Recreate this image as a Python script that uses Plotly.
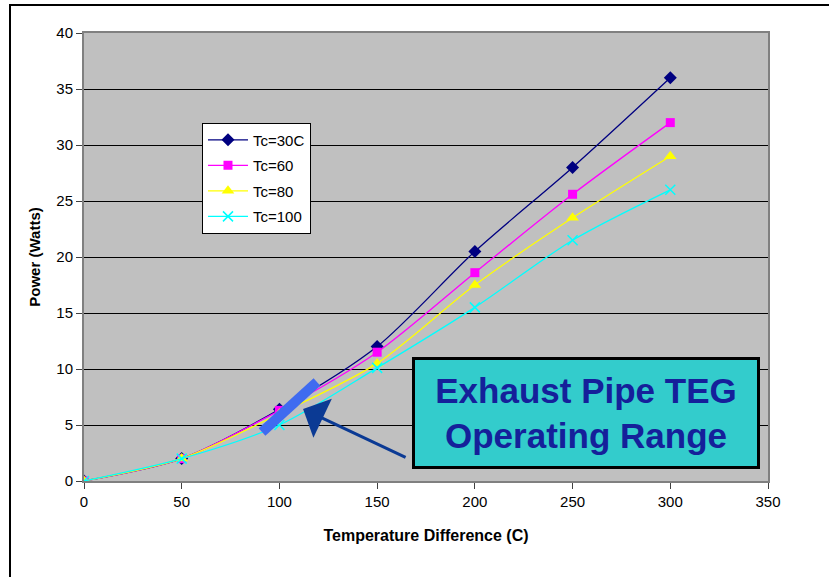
import plotly.graph_objects as go

temp_diff = [0, 50, 100, 150, 200, 250, 300]
tc30 = [0, 2.0, 6.4, 12.0, 20.5, 28.0, 36.0]
tc60 = [0, 2.0, 6.3, 11.5, 18.6, 25.6, 32.0]
tc80 = [0, 2.0, 6.0, 10.5, 17.5, 23.5, 29.0]
tc100 = [0, 2.0, 5.0, 10.1, 15.5, 21.5, 26.0]

series_names = ["Tc=30C", "Tc=60", "Tc=80", "Tc=100"]
series_values = [tc30, tc60, tc80, tc100]
series_colors = ["#000080", "#FF00FF", "#FFFF00", "#00FFFF"]
series_symbols = ["diamond", "square", "triangle-up", "x-thin-open"]
series_sizes = [10, 9, 11, 10]

x_ticks = [0, 50, 100, 150, 200, 250, 300, 350]
y_ticks = [0, 5, 10, 15, 20, 25, 30, 35, 40]

# operating range bar (data coords)
range_x = [91.1, 119.2]
range_y = [4.38, 8.84]

FONT = "Liberation Sans, Arial, sans-serif"

fig = go.Figure()
for name, vals, col, sym, sz in zip(series_names, series_values, series_colors, series_symbols, series_sizes):
    marker = dict(symbol=sym, size=sz, color=col)
    if sym.startswith("x-thin"):
        marker["line"] = dict(color=col, width=1.5)
    fig.add_trace(go.Scatter(
        x=temp_diff, y=vals, name=name, mode="lines+markers",
        line=dict(color=col, width=1.3, shape="spline", smoothing=0.8),
        marker=marker, legendgroup=name,
    ))

fig.update_layout(
    width=829, height=577,
    margin=dict(l=84, r=61, t=33, b=96),
    paper_bgcolor="white", plot_bgcolor="#C0C0C0",
    font=dict(family=FONT, color="black", size=15),
    showlegend=True,
    legend=dict(
        x=0.1725, y=0.80, xanchor="left", yanchor="top",
        bgcolor="white", bordercolor="black", borderwidth=1,
        font=dict(size=15, family=FONT), itemwidth=40,
        tracegroupgap=3, traceorder="grouped",
    ),
    xaxis=dict(
        range=[0, 350], tickvals=x_ticks, showgrid=False, zeroline=False,
        showline=True, linecolor="#808080", linewidth=2, mirror=True,
        ticks="outside", ticklen=6, tickcolor="#404040",
        tickfont=dict(size=15, family=FONT),
        title=dict(text="<b>Temperature Difference (C)</b>", font=dict(size=16, family=FONT), standoff=21),
    ),
    yaxis=dict(
        range=[0, 40], tickvals=y_ticks, showgrid=True, gridcolor="black", gridwidth=1,
        zeroline=False, showline=True, linecolor="#808080", linewidth=2, mirror=True,
        ticks="outside", ticklen=6, tickcolor="#404040",
        tickfont=dict(size=15, family=FONT),
        title=dict(text="<b>Power (Watts)</b>", font=dict(size=15, family=FONT), standoff=12),
    ),
    shapes=[
        dict(type="line", xref="x", yref="y", x0=range_x[0], y0=range_y[0], x1=range_x[1], y1=range_y[1],
             line=dict(color="#3F6BF0", width=10), layer="above"),
        dict(type="rect", xref="paper", yref="paper", x0=(10 - 84) / 684, x1=1.3,
             y0=-0.5, y1=1 + 28 / 448, line=dict(color="black", width=2), layer="above"),
    ],
    annotations=[
        dict(x=112.1, y=6.43, xref="x", yref="y", text="", showarrow=True,
             ax=104, ay=49, arrowhead=1, arrowsize=2.4, arrowwidth=3, arrowcolor="#0B3A94"),
        dict(x=(585.5 - 84) / 684, y=(481 - 412.5) / 448, xref="paper", yref="paper",
             xanchor="center", yanchor="middle",
             text="<b>Exhaust Pipe TEG<br>Operating Range</b>", showarrow=False,
             font=dict(size=35, family=FONT, color="#15209A"),
             bgcolor="#33CCCC", bordercolor="black", borderwidth=3, borderpad=0,
             width=342, height=106, align="center"),
    ],
)

fig.write_html("out.html")
